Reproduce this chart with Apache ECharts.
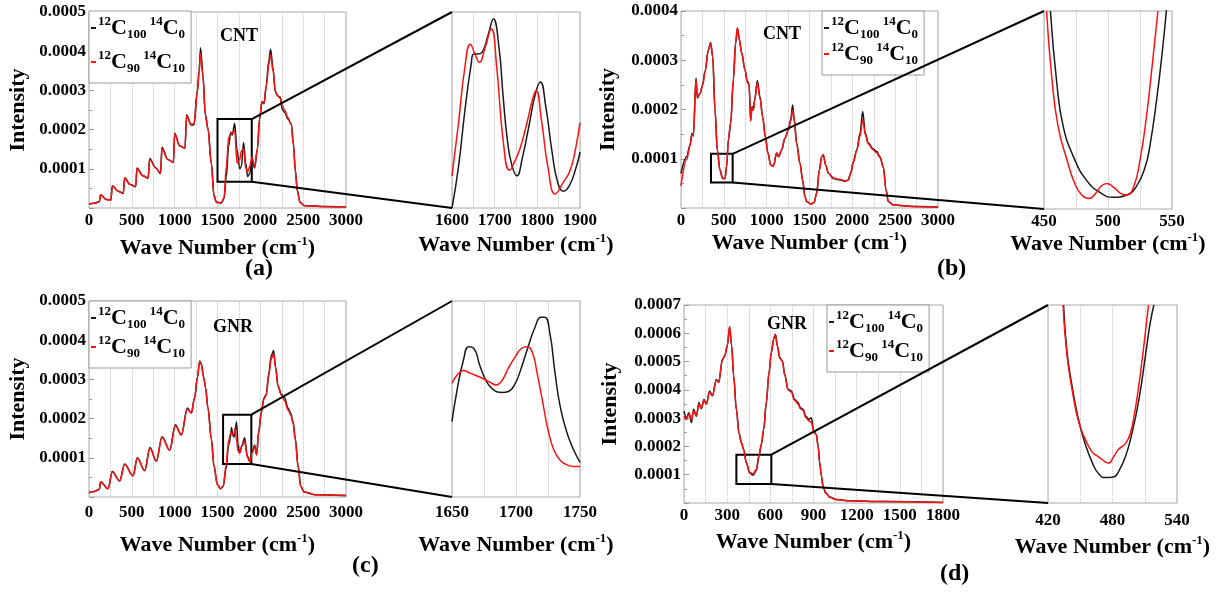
<!DOCTYPE html>
<html>
<head>
<meta charset="utf-8">
<script src="https://cdn.jsdelivr.net/npm/echarts@6/dist/echarts.min.js"></script>
<style>
  html, body { margin: 0; padding: 0; background: #fff; }
  #chart { width: 1220px; height: 596px; }
</style>
</head>
<body>
<div id="chart"></div>
<script>
// intensities are in units of 1e-4
const NAME0 = '12C100 14C0';
const NAME1 = '12C90 14C10';

// (a) CNT, full range
const waveA = [0, 60, 120, 136, 200, 255, 272, 340, 400, 416, 480, 545, 560, 630, 690, 708, 780, 835, 852, 920, 985, 1000, 1060, 1120, 1140, 1190, 1225, 1265, 1285, 1302, 1330, 1358, 1389, 1428, 1459, 1486, 1545, 1576, 1603, 1630, 1654, 1673, 1700, 1728, 1759, 1778, 1805, 1829, 1852, 1876, 1903, 1934, 1965, 1992, 2019, 2043, 2070, 2097, 2120, 2148, 2175, 2206, 2233, 2253, 2284, 2323, 2362, 2385, 2409, 2432, 2463, 2518, 2712, 3000];
const blackA = [0.10, 0.12, 0.16, 0.34, 0.22, 0.20, 0.57, 0.43, 0.37, 0.77, 0.60, 0.54, 1.02, 0.82, 0.76, 1.26, 1.02, 0.88, 1.55, 1.24, 1.16, 1.91, 1.58, 1.52, 2.38, 2.12, 2.12, 3.00, 3.50, 4.09, 3.40, 2.36, 2.02, 1.15, 0.33, 0.15, 0.13, 0.24, 0.80, 1.58, 1.93, 1.86, 2.16, 1.49, 1.00, 1.06, 1.67, 1.15, 0.80, 0.88, 1.19, 1.02, 1.49, 2.27, 2.71, 2.66, 3.14, 3.74, 4.05, 3.57, 2.96, 2.86, 2.83, 2.53, 2.44, 2.27, 2.14, 1.67, 0.97, 0.45, 0.15, 0.06, 0.04, 0.03];
const redA = [0.10, 0.12, 0.16, 0.33, 0.22, 0.20, 0.56, 0.43, 0.38, 0.76, 0.60, 0.55, 1.00, 0.82, 0.77, 1.24, 1.02, 0.89, 1.52, 1.24, 1.17, 1.88, 1.58, 1.53, 2.36, 2.14, 2.14, 2.95, 3.45, 3.95, 3.35, 2.40, 2.02, 1.12, 0.30, 0.14, 0.13, 0.26, 1.05, 1.80, 1.89, 1.92, 1.98, 1.15, 1.23, 1.45, 1.52, 1.02, 0.92, 1.06, 1.30, 1.05, 1.50, 2.30, 2.72, 2.68, 3.10, 3.65, 3.90, 3.50, 2.98, 2.85, 2.80, 2.62, 2.50, 2.30, 2.12, 1.62, 0.92, 0.42, 0.14, 0.06, 0.04, 0.03];
// (a) zoom 1600-1900
const zoomWaveA0 = [1600, 1615, 1630, 1645, 1651, 1660, 1670, 1685, 1697, 1710, 1720, 1730, 1740, 1752, 1765, 1780, 1795, 1807, 1820, 1835, 1848, 1861, 1875, 1890, 1900];
const zoomBlackA = [0.80, 1.09, 1.49, 1.83, 1.90, 1.90, 1.91, 2.04, 2.15, 1.95, 1.59, 1.28, 1.11, 1.03, 1.16, 1.38, 1.61, 1.70, 1.52, 1.19, 0.98, 0.92, 0.96, 1.08, 1.20];
const zoomWaveA1 = [1600, 1615, 1630, 1643, 1655, 1664, 1678, 1692, 1705, 1720, 1735, 1748, 1760, 1775, 1790, 1797, 1810, 1825, 1842, 1860, 1877, 1890, 1900];
const zoomRedA = [1.03, 1.40, 1.80, 1.97, 1.89, 1.84, 1.95, 2.08, 1.80, 1.28, 1.07, 1.14, 1.23, 1.40, 1.59, 1.64, 1.42, 1.09, 0.90, 0.98, 1.07, 1.23, 1.41];

// (b) CNT, full range
const waveB = [0, 66, 105, 128, 144, 175, 191, 222, 253, 280, 319, 346, 370, 397, 424, 455, 486, 514, 533, 553, 580, 611, 638, 658, 681, 708, 747, 774, 794, 813, 829, 844, 860, 891, 922, 953, 984, 1016, 1047, 1078, 1117, 1140, 1175, 1214, 1253, 1280, 1303, 1323, 1350, 1389, 1420, 1447, 1467, 1514, 1553, 1584, 1615, 1642, 1661, 1689, 1720, 1778, 1856, 1914, 1953, 1981, 2012, 2051, 2090, 2121, 2152, 2187, 2237, 2284, 2323, 2362, 2393, 2420, 2479, 2712, 3000];
const blackB = [0.70, 1.04, 1.28, 1.52, 1.46, 2.64, 2.23, 2.33, 2.50, 2.77, 3.21, 3.36, 3.08, 1.99, 1.18, 0.77, 0.60, 0.60, 0.84, 1.38, 1.72, 2.60, 3.35, 3.65, 3.42, 3.15, 2.81, 2.57, 2.53, 1.79, 2.06, 2.00, 2.20, 2.59, 2.26, 1.86, 1.45, 1.11, 0.87, 0.85, 1.11, 1.04, 1.18, 1.42, 1.59, 1.79, 2.09, 1.79, 1.32, 0.91, 0.57, 0.23, 0.13, 0.08, 0.11, 0.30, 0.77, 1.04, 1.08, 0.87, 0.71, 0.60, 0.57, 0.54, 0.57, 0.71, 0.94, 1.18, 1.52, 1.96, 1.52, 1.32, 1.21, 1.15, 1.04, 0.84, 0.37, 0.13, 0.06, 0.03, 0.02];
const redB = [0.45, 0.98, 1.26, 1.50, 1.46, 2.62, 2.24, 2.33, 2.50, 2.76, 3.20, 3.34, 3.08, 1.99, 1.17, 0.76, 0.60, 0.60, 0.86, 1.40, 1.73, 2.62, 3.36, 3.66, 3.42, 3.14, 2.80, 2.55, 2.50, 1.76, 2.04, 1.98, 2.18, 2.55, 2.22, 1.84, 1.44, 1.10, 0.87, 0.85, 1.12, 1.05, 1.18, 1.42, 1.58, 1.76, 1.99, 1.76, 1.30, 0.90, 0.56, 0.22, 0.13, 0.08, 0.11, 0.30, 0.77, 1.04, 1.07, 0.87, 0.71, 0.61, 0.58, 0.55, 0.57, 0.70, 0.93, 1.16, 1.46, 1.79, 1.48, 1.30, 1.19, 1.12, 1.02, 0.82, 0.36, 0.13, 0.06, 0.03, 0.02];
// (b) zoom 450-550
const zoomWaveB0 = [455, 460, 465, 473, 483, 494, 504, 514.5, 522, 529, 533, 538, 542.5, 546];
const zoomBlackB = [0.760, 0.698, 0.661, 0.635, 0.615, 0.604, 0.600, 0.602, 0.609, 0.626, 0.646, 0.684, 0.726, 0.765];
const zoomWaveB1 = [452, 456, 461, 468, 474, 479.5, 485, 490, 495, 499, 504, 510.5, 514.5, 520, 525, 530, 535, 539];
const zoomRedB = [0.760, 0.704, 0.661, 0.632, 0.612, 0.602, 0.599, 0.603, 0.610, 0.612, 0.609, 0.603, 0.602, 0.609, 0.632, 0.669, 0.718, 0.760];

// (c) GNR, full range
const waveC = [0, 60, 120, 136, 222, 272, 358, 416, 514, 564, 650, 712, 786, 852, 942, 1008, 1078, 1148, 1195, 1233, 1265, 1292, 1311, 1339, 1360, 1389, 1428, 1459, 1498, 1537, 1568, 1599, 1630, 1654, 1663, 1677, 1690, 1705, 1722, 1740, 1759, 1786, 1817, 1848, 1876, 1903, 1934, 1957, 1980, 2012, 2043, 2070, 2097, 2128, 2155, 2179, 2206, 2245, 2284, 2323, 2354, 2381, 2409, 2440, 2471, 2510, 2635, 3000];
const blackC = [0.11, 0.14, 0.20, 0.39, 0.21, 0.65, 0.41, 0.84, 0.54, 1.00, 0.67, 1.26, 0.91, 1.54, 1.19, 1.84, 1.58, 2.27, 2.14, 2.53, 3.05, 3.47, 3.40, 3.05, 2.79, 2.27, 1.49, 0.80, 0.32, 0.21, 0.28, 0.71, 1.32, 1.55, 1.77, 1.59, 1.53, 1.67, 1.92, 1.33, 1.13, 1.32, 1.51, 1.06, 0.91, 1.15, 1.32, 1.08, 1.67, 2.19, 2.53, 2.62, 3.14, 3.61, 3.74, 3.31, 2.84, 2.62, 2.53, 2.27, 2.14, 1.93, 1.49, 0.80, 0.28, 0.13, 0.06, 0.04];
const redC = [0.11, 0.14, 0.19, 0.38, 0.21, 0.64, 0.41, 0.83, 0.54, 0.99, 0.68, 1.24, 0.92, 1.52, 1.20, 1.82, 1.59, 2.24, 2.15, 2.53, 3.04, 3.45, 3.38, 3.05, 2.80, 2.25, 1.47, 0.78, 0.31, 0.21, 0.29, 0.80, 1.45, 1.62, 1.64, 1.59, 1.60, 1.76, 1.45, 1.17, 1.12, 1.30, 1.42, 1.02, 0.90, 1.12, 1.28, 1.07, 1.62, 2.15, 2.50, 2.60, 3.08, 3.52, 3.66, 3.28, 2.82, 2.60, 2.45, 2.22, 2.10, 1.90, 1.45, 0.77, 0.27, 0.13, 0.06, 0.04];
// (c) zoom 1650-1750
const zoomWaveC0 = [1650, 1654, 1659, 1663, 1667, 1672, 1677, 1682.5, 1689, 1694, 1699.5, 1704.5, 1709.5, 1715, 1719.5, 1722.5, 1726.5, 1730.5, 1734.5, 1739.5, 1745, 1750];
const zoomBlackC = [1.385, 1.547, 1.700, 1.767, 1.759, 1.666, 1.589, 1.547, 1.533, 1.538, 1.581, 1.666, 1.767, 1.869, 1.917, 1.917, 1.835, 1.632, 1.462, 1.334, 1.241, 1.177];
const zoomWaveC1 = [1650, 1654, 1659, 1664, 1672, 1680, 1684.5, 1689, 1694, 1699.5, 1704.5, 1709, 1713, 1716.5, 1721, 1725, 1729.5, 1734.5, 1739.5, 1745, 1750];
const zoomRedC = [1.581, 1.623, 1.645, 1.632, 1.611, 1.584, 1.572, 1.594, 1.657, 1.716, 1.759, 1.767, 1.733, 1.632, 1.479, 1.343, 1.241, 1.187, 1.165, 1.156, 1.156];

// (d) GNR, full range
const waveD = [0, 16, 35, 51, 67, 86, 104, 120, 139, 155, 178, 197, 225, 241, 267, 283, 301, 317, 331, 345, 364, 382, 399, 415, 433, 456, 480, 503, 521, 538, 554, 572, 591, 607, 623, 635, 649, 665, 684, 700, 723, 746, 769, 793, 809, 827, 846, 869, 885, 901, 920, 932, 943, 955, 966, 985, 1013, 1059, 1152, 1383, 1800];
const blackD = [3.25, 3.01, 3.19, 2.84, 3.31, 3.07, 3.55, 3.33, 3.66, 3.49, 3.96, 3.78, 4.37, 4.26, 5.08, 5.20, 5.56, 6.21, 5.56, 4.49, 3.31, 2.48, 2.13, 1.89, 1.42, 1.07, 0.98, 1.15, 1.65, 2.07, 2.60, 3.55, 4.61, 5.32, 5.79, 5.97, 5.56, 5.14, 5.02, 4.55, 4.02, 3.96, 3.66, 3.55, 3.37, 3.31, 3.07, 2.96, 3.01, 2.54, 2.42, 2.01, 1.42, 0.95, 0.59, 0.35, 0.20, 0.12, 0.08, 0.05, 0.02];
const redD = [3.07, 2.95, 3.15, 2.95, 3.25, 3.10, 3.50, 3.35, 3.62, 3.50, 3.92, 3.80, 4.34, 4.27, 5.05, 5.20, 5.58, 6.25, 5.58, 4.50, 3.30, 2.47, 2.12, 1.88, 1.43, 1.09, 1.03, 1.19, 1.70, 2.10, 2.62, 3.56, 4.62, 5.33, 5.80, 5.97, 5.55, 5.12, 5.00, 4.52, 4.00, 3.92, 3.62, 3.50, 3.33, 3.28, 3.02, 2.90, 2.85, 2.52, 2.40, 2.00, 1.42, 0.95, 0.60, 0.36, 0.21, 0.12, 0.08, 0.05, 0.02];
// (d) zoom 420-540
const zoomWaveD0 = [434.5, 437.5, 442.5, 448.5, 454.5, 461, 467, 473.5, 481, 485.5, 492, 498, 504.5, 510.5, 515, 518.5];
const zoomBlackD = [1.50, 1.363, 1.252, 1.151, 1.080, 1.024, 0.989, 0.977, 0.979, 0.994, 1.040, 1.110, 1.212, 1.343, 1.444, 1.50];
const zoomWaveD1 = [434, 437.5, 442.5, 448.5, 454.5, 461, 467, 473.5, 476.5, 481, 485.5, 492, 496.5, 501, 506, 510.5, 513.5];
const zoomRedD = [1.50, 1.353, 1.242, 1.146, 1.095, 1.055, 1.040, 1.024, 1.021, 1.040, 1.062, 1.080, 1.110, 1.181, 1.293, 1.414, 1.50];

// zoom boxes drawn on the full-range plots: [[x0, y0], [x1, y1]]
const boxA = [[1500, 0.67], [1900, 2.27]];
const boxB = [[350, 0.52], [603, 1.10]];
const boxC = [[1565, 0.84], [1895, 2.10]];
const boxD = [[364, 0.67], [607, 1.71]];

// axis ranges: [min, max, interval]
const xRanges = [[0, 3000, 500], [1600, 1900, 100], [0, 3000, 500], [450, 550, 50],
                 [0, 3000, 500], [1650, 1750, 50], [0, 1800, 300], [420, 540, 60]];
const yRanges = [[0, 5, 1], [0.8, 2.2], [0, 4, 1], [0.59, 0.76],
                 [0, 5, 1], [1.0, 2.0], [0, 7, 1], [0.9, 1.5]];

const SERIF = "'Liberation Serif', 'Times New Roman', serif";
const BLACK = '#1a1a1a';
const RED = '#ff1010';

const grids = [
    { left: 89, top: 12, width: 257, height: 196 },
    { left: 452, top: 12, width: 128, height: 196 },
    { left: 681, top: 11, width: 257, height: 197 },
    { left: 1044, top: 11, width: 128, height: 198 },
    { left: 89, top: 301, width: 257, height: 196 },
    { left: 452, top: 301, width: 128, height: 196 },
    { left: 684, top: 305, width: 259, height: 198 },
    { left: 1048, top: 305, width: 129, height: 198 }
].map(g => Object.assign(g, { show: true, borderColor: '#a8a8a8', borderWidth: 1, backgroundColor: '#fff' }));

const xLabelMargin = [4, 4, 4, 4, 7, 7, 4, 9];
const xNameGap = [27, 24, 19, 21, 35, 35, 26, 31];
const yNameGap = [60, 0, 62, 0, 60, 0, 63, 0];

const gridLine = { show: true, lineStyle: { type: 'dotted', color: '#c4c4c4', width: 1 } };

const xAxes = xRanges.map((r, i) => ({
    type: 'value', gridIndex: i, min: r[0], max: r[1], interval: r[2],
    axisLine: { show: false },
    axisTick: { show: false },
    minorTick: { show: false, splitNumber: 2 },
    splitLine: gridLine,
    minorSplitLine: gridLine,
    axisLabel: {
        margin: xLabelMargin[i], fontFamily: SERIF, fontWeight: 'bold', fontSize: 17, color: '#000',
        formatter: v => String(v)
    },
    name: '{t|Wave Number (cm}{s|-1}{t|)}',
    nameLocation: 'middle',
    nameGap: xNameGap[i],
    nameTextStyle: {
        rich: {
            t: { fontFamily: SERIF, fontWeight: 'bold', fontSize: 22, color: '#000', lineHeight: 26 },
            s: { fontFamily: SERIF, fontWeight: 'bold', fontSize: 13, color: '#000', verticalAlign: 'top', lineHeight: 14 }
        }
    }
}));

const yAxes = yRanges.map((r, i) => {
    const main = i % 2 === 0;
    return {
        type: 'value', gridIndex: i, min: r[0], max: r[1], interval: main ? r[2] : undefined,
        axisLine: { show: false },
        axisTick: { show: main, inside: true, length: 5, lineStyle: { color: '#999' } },
        minorTick: { show: main, splitNumber: 2, length: 3, lineStyle: { color: '#999' } },
        splitLine: { show: false },
        axisLabel: {
            show: main, margin: 3, fontFamily: SERIF, fontWeight: 'bold', fontSize: 17, color: '#000',
            formatter: v => v === 0 ? '' : (v / 1e4).toFixed(4)
        },
        name: main ? 'Intensity' : '',
        nameLocation: 'middle',
        nameGap: yNameGap[i],
        nameTextStyle: { fontFamily: SERIF, fontWeight: 'bold', fontSize: 22, color: '#000' }
    };
});

function pairs(xs, ys) {
    return xs.map((x, i) => [x, ys[i]]);
}

function line(name, color, idx, data, box) {
    const zoomed = idx % 2 === 1;
    const s = {
        name: name, type: 'line', xAxisIndex: idx, yAxisIndex: idx,
        data: data, showSymbol: false, smooth: zoomed ? 0.5 : 0.35,
        lineStyle: { color: color, width: 1.5 }, itemStyle: { color: color },
        animation: false, z: color === RED ? 3 : 2
    };
    if (!zoomed) s.smoothMonotone = 'x';
    if (box) {
        s.markArea = {
            silent: true,
            itemStyle: { color: 'rgba(0,0,0,0)', borderColor: '#000', borderWidth: 2 },
            data: [[{ coord: box[0] }, { coord: box[1] }]]
        };
    }
    return s;
}

const series = [
    line(NAME0, BLACK, 0, pairs(waveA, blackA)), line(NAME1, RED, 0, pairs(waveA, redA), boxA),
    line(NAME0, BLACK, 1, pairs(zoomWaveA0, zoomBlackA)), line(NAME1, RED, 1, pairs(zoomWaveA1, zoomRedA)),
    line(NAME0, BLACK, 2, pairs(waveB, blackB)), line(NAME1, RED, 2, pairs(waveB, redB), boxB),
    line(NAME0, BLACK, 3, pairs(zoomWaveB0, zoomBlackB)), line(NAME1, RED, 3, pairs(zoomWaveB1, zoomRedB)),
    line(NAME0, BLACK, 4, pairs(waveC, blackC)), line(NAME1, RED, 4, pairs(waveC, redC), boxC),
    line(NAME0, BLACK, 5, pairs(zoomWaveC0, zoomBlackC)), line(NAME1, RED, 5, pairs(zoomWaveC1, zoomRedC)),
    line(NAME0, BLACK, 6, pairs(waveD, blackD)), line(NAME1, RED, 6, pairs(waveD, redD), boxD),
    line(NAME0, BLACK, 7, pairs(zoomWaveD0, zoomBlackD)), line(NAME1, RED, 7, pairs(zoomWaveD1, zoomRedD))
];

const legendRich = {
    c: { fontFamily: SERIF, fontWeight: 'bold', fontSize: 22, color: '#000', lineHeight: 26 },
    sup: { fontFamily: SERIF, fontWeight: 'bold', fontSize: 13, color: '#000', verticalAlign: 'top', lineHeight: 14 },
    sub: { fontFamily: SERIF, fontWeight: 'bold', fontSize: 13, color: '#000', verticalAlign: 'bottom', lineHeight: 14 }
};

function legendAt(left, top, gap) {
    return {
        left: left, top: top, orient: 'vertical', data: [NAME0, NAME1],
        icon: 'rect', itemWidth: 5, itemHeight: 2, itemGap: gap,
        padding: [4, 6, 8, 2], borderColor: '#999', borderWidth: 1, backgroundColor: '#fff',
        selectedMode: false,
        formatter: n => n === NAME0
            ? '{sup|12}{c|C}{sub|100} {sup|14}{c|C}{sub|0}'
            : '{sup|12}{c|C}{sub|90} {sup|14}{c|C}{sub|10}',
        textStyle: { rich: legendRich, padding: [0, 0, 0, -3] }
    };
}

function label(text, left, top, size) {
    return {
        text: text, left: left, top: top, padding: 0,
        textStyle: { fontFamily: SERIF, fontWeight: 'bold', fontSize: size, color: '#000' }
    };
}

const chart = echarts.init(document.getElementById('chart'));
chart.setOption({
    animation: false,
    backgroundColor: '#fff',
    grid: grids,
    xAxis: xAxes,
    yAxis: yAxes,
    series: series,
    legend: [legendAt(89, 11, 8), legendAt(822, 11, 0), legendAt(89, 301, 3), legendAt(827, 305, 3)],
    title: [
        label('CNT', 220, 27, 18), label('CNT', 763, 25, 18),
        label('GNR', 213, 318, 18), label('GNR', 767, 315, 18),
        label('(a)', 245, 257, 24), label('(b)', 937, 257, 24),
        label('(c)', 352, 554, 24), label('(d)', 940, 562, 24)
    ]
});

// connector lines from each zoom box to its zoomed plot
const boxes = [boxA, boxB, boxC, boxD];
const connectors = [];
boxes.forEach((b, k) => {
    const mainIdx = 4 * k + 1;
    const zoomIdx = 4 * k + 2;
    const xr = xRanges[2 * k + 1];
    const yr = yRanges[2 * k + 1];
    const p0 = chart.convertToPixel({ seriesIndex: mainIdx }, [b[1][0], b[1][1]]);
    const p1 = chart.convertToPixel({ seriesIndex: mainIdx }, [b[1][0], b[0][1]]);
    const q0 = chart.convertToPixel({ seriesIndex: zoomIdx }, [xr[0], yr[1]]);
    const q1 = chart.convertToPixel({ seriesIndex: zoomIdx }, [xr[0], yr[0]]);
    [[p0, q0], [p1, q1]].forEach(([p, q]) => {
        connectors.push({
            type: 'line', silent: true, z: 10,
            shape: { x1: p[0], y1: p[1], x2: q[0], y2: q[1] },
            style: { stroke: '#000', lineWidth: 2 }
        });
    });
});
chart.setOption({ graphic: connectors });
</script>
</body>
</html>
